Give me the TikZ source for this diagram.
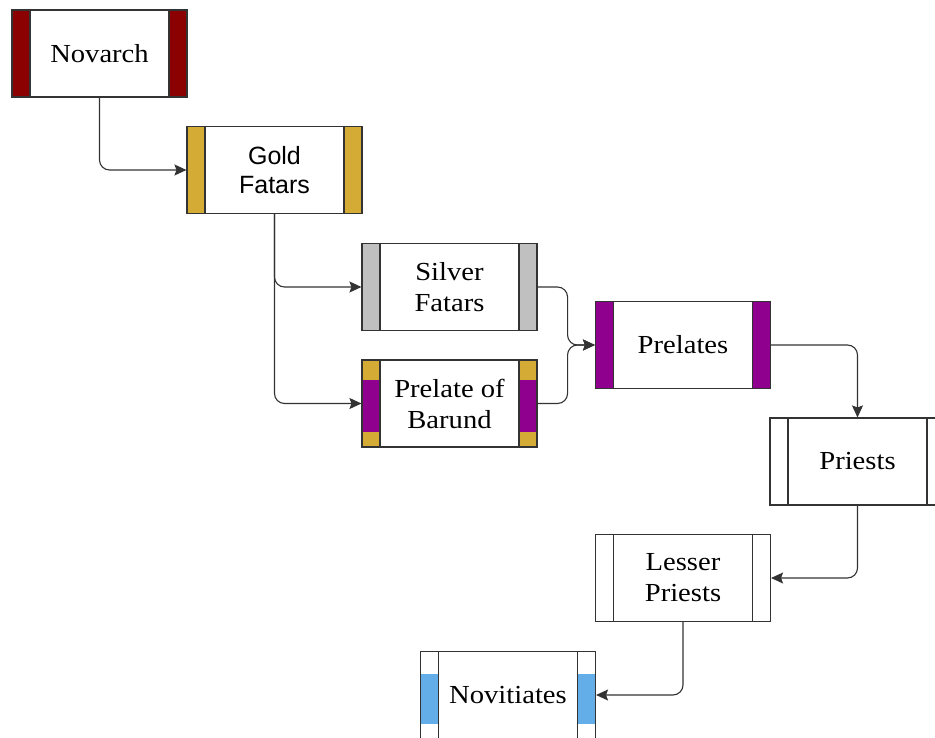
\documentclass[tikz,border=0pt]{standalone}
\usepackage{fontspec}
\setmainfont{Liberation Serif}[FakeStretch=1.1]
\newfontfamily\sansf{Liberation Sans}
\usetikzlibrary{arrows.meta}
\definecolor{linec}{HTML}{333333}
\definecolor{darkredc}{HTML}{8B0000}
\definecolor{goldc}{HTML}{D4AC35}
\definecolor{silverc}{HTML}{C0C0C0}
\definecolor{purplec}{HTML}{8F008F}
\definecolor{bluec}{HTML}{63AEE8}
\tikzset{
 box/.style={draw=linec, line width=1.1pt, fill=white, minimum width=175pt, minimum height=87pt,
   inner sep=0pt, align=center, font=\fontsize{26}{31}\selectfont},
 sidebars/.style={path picture={
   \fill[#1] (path picture bounding box.north west) rectangle ([xshift=18pt]path picture bounding box.south west);
   \fill[#1] (path picture bounding box.north east) rectangle ([xshift=-18pt]path picture bounding box.south east);
   \draw[linec, line width=1.1pt] ([xshift=18pt]path picture bounding box.north west) -- ([xshift=18pt]path picture bounding box.south west);
   \draw[linec, line width=1.1pt] ([xshift=-18pt]path picture bounding box.north east) -- ([xshift=-18pt]path picture bounding box.south east);
 }},
 bandbars/.style n args={4}{path picture={
   \fill[#1] (path picture bounding box.north west) rectangle ([xshift=18pt]path picture bounding box.south west);
   \fill[#1] (path picture bounding box.north east) rectangle ([xshift=-18pt]path picture bounding box.south east);
   \fill[#2] ([yshift=-#3]path picture bounding box.north west) rectangle ([xshift=18pt,yshift=#4]path picture bounding box.south west);
   \fill[#2] ([yshift=-#3]path picture bounding box.north east) rectangle ([xshift=-18pt,yshift=#4]path picture bounding box.south east);
   \draw[linec, line width=1.1pt] ([xshift=18pt]path picture bounding box.north west) -- ([xshift=18pt]path picture bounding box.south west);
   \draw[linec, line width=1.1pt] ([xshift=-18pt]path picture bounding box.north east) -- ([xshift=-18pt]path picture bounding box.south east);
 }},
 conn/.style={draw=linec, line width=1.1pt, rounded corners=10pt, -{Stealth[length=12pt,width=11pt,inset=2pt]}},
}
\begin{document}
\begin{tikzpicture}[x=1pt,y=-1pt]
\useasboundingbox (0,0) rectangle (935,738);
\clip (0,0) rectangle (935,738);
\node[box, sidebars=darkredc] (nov) at (99.5,53.5) {Novarch};
\node[box, sidebars=goldc, font=\sansf\fontsize{25}{29}\selectfont] (gold) at (274.5,170) {Gold\\Fatars};
\node[box, sidebars=silverc] (silver) at (449.5,287) {Silver\\Fatars};
\node[box, bandbars={goldc}{purplec}{20pt}{15pt}] (barund) at (449.5,403.5) {Prelate of\\Barund};
\node[box, sidebars=purplec] (prel) at (683,345) {Prelates};
\node[box, sidebars=white] (priests) at (857.5,461.5) {Priests};
\node[box, sidebars=white] (lesser) at (683,578) {Lesser\\Priests};
\node[box, bandbars={white}{bluec}{22.5pt}{14.5pt}] (novit) at (508,695) {Novitiates};
\draw[conn] (nov.south) |- (gold.west);
\draw[conn] (gold.south) |- (silver.west);
\draw[conn] (gold.south) |- (barund.west);
\draw[conn] (silver.east) -- ++(30,0) |- (prel.west);
\draw[conn] (barund.east) -- ++(30,0) |- (prel.west);
\draw[conn] (prel.east) -| (priests.north);
\draw[conn] (priests.south) |- (lesser.east);
\draw[conn] (lesser.south) |- (novit.east);
\end{tikzpicture}
\end{document}
